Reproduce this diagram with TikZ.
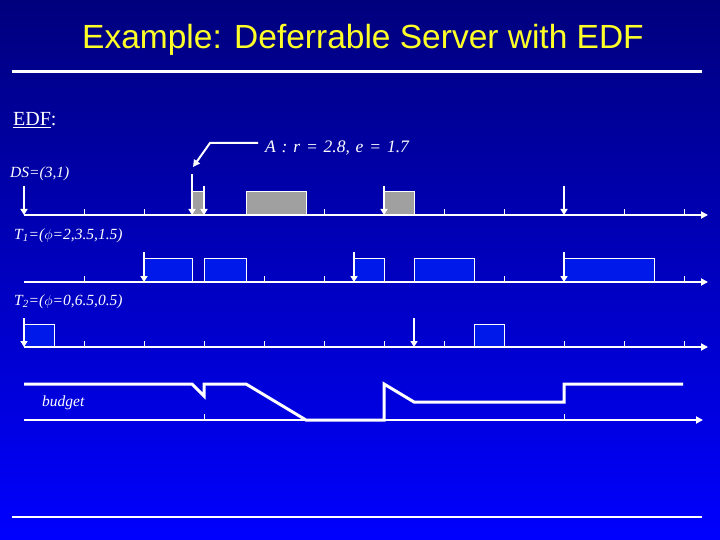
\documentclass[tikz,border=0pt]{standalone}
\usepackage{fontspec}
\setmainfont{Liberation Serif}
\newfontfamily\titlefont{Liberation Sans}
\usetikzlibrary{arrows.meta}
\definecolor{bgtop}{RGB}{0,0,125}
\definecolor{bgbot}{RGB}{0,0,255}
\definecolor{titley}{RGB}{255,255,40}
\definecolor{execgray}{RGB}{160,160,160}
\definecolor{execblue}{RGB}{0,25,235}
\begin{document}
\begin{tikzpicture}[x=1pt,y=-1pt,
  axisline/.style={white, line width=2pt, -{Triangle[length=7pt,width=7pt]}},
  tickmark/.style={white, line width=1pt},
  release/.style={white, line width=2pt, -{Triangle[length=6pt,width=7pt]}},
  grayjob/.style={draw=white, line width=1pt, fill=execgray},
  bluejob/.style={draw=white, line width=1pt, fill=execblue},
  lbl/.style={text=white, font=\fontsize{15.5}{18}\selectfont\itshape, anchor=west, inner sep=0pt},
  budgetline/.style={white, line width=3pt, line join=miter}]
\shade[top color=bgtop, bottom color=bgbot] (0,0) rectangle (720,540);
\useasboundingbox (0,0) rectangle (720,540);

% title
\node[text=titley, font=\titlefont\fontsize{33.5}{38}\selectfont] (title) at (363,40) {Example: Deferrable Server with EDF};
\draw[white, line width=3pt] (12,72) -- (702,72);
\draw[white, line width=2pt] (12,517) -- (702,517);

\node[text=white, font=\fontsize{20}{22}\selectfont, anchor=west, inner sep=0pt] (edf) at (13,120) {\underline{EDF}:};

% ---------- DS row ----------
\node[lbl] (dslbl) at (10,174) {DS=(3,1)};
\foreach \t in {1,...,11} \draw[tickmark] ({24+60*\t},215) -- ++(0,-6);
\draw[grayjob] (192,192) rectangle (204,215);
\draw[grayjob] (246,192) rectangle (306,215);
\draw[grayjob] (384,192) rectangle (414,215);
\draw[axisline] (24,215) -- (708,215);
\foreach \x in {24,204,384,564} \draw[release] (\x,186) -- (\x,215);
\draw[release] (192,174) -- (192,215);
\node[text=white, font=\fontsize{17.5}{20}\selectfont\itshape, anchor=west, inner sep=0pt] (anot) at (265,148) {A\,\,:\,\,r\,\,=\,\,2.8,\,\,e\,\,=\,\,1.7};
\coordinate (anotend) at (193,167);
\draw[white, line width=2pt, -{Triangle[length=7pt,width=7pt]}] (anot.west |- 0,143) ++(-7,0) -- (210,143) -- (anotend);

% ---------- T1 row ----------
\node[lbl] (t1lbl) at (14,236) {T\textsubscript{1}=($\phi$=2,3.5,1.5)};
\foreach \t in {1,...,11} \draw[tickmark] ({24+60*\t},282) -- ++(0,-6);
\foreach \a/\b in {144/192,204/246,354/384,414/474,564/654}
  \draw[bluejob] (\a,258) rectangle (\b,282);
\draw[axisline] (24,282) -- (708,282);
\foreach \x in {144,354,564} \draw[release] (\x,252) -- (\x,282);

% ---------- T2 row ----------
\node[lbl] (t2lbl) at (14,302) {T\textsubscript{2}=($\phi$=0,6.5,0.5)};
\foreach \t in {1,...,11} \draw[tickmark] ({24+60*\t},347) -- ++(0,-6);
\foreach \a/\b in {24/54,474/504}
  \draw[bluejob] (\a,324) rectangle (\b,347);
\draw[axisline] (24,347) -- (708,347);
\foreach \x in {24,414} \draw[release] (\x,318) -- (\x,347);

% ---------- budget ----------
\node[lbl] (budlbl) at (42,403) {budget};
\foreach \x in {204,564} \draw[tickmark] (\x,420) -- ++(0,-6);
\draw[axisline] (24,420) -- (703,420);
\draw[budgetline] (24,384) -- (192,384) -- (204,396) -- (204,384) -- (246,384) -- (306,420)
  -- (384,420) -- (384,384) -- (414,402) -- (564,402) -- (564,384) -- (683,384);
\end{tikzpicture}
\end{document}
